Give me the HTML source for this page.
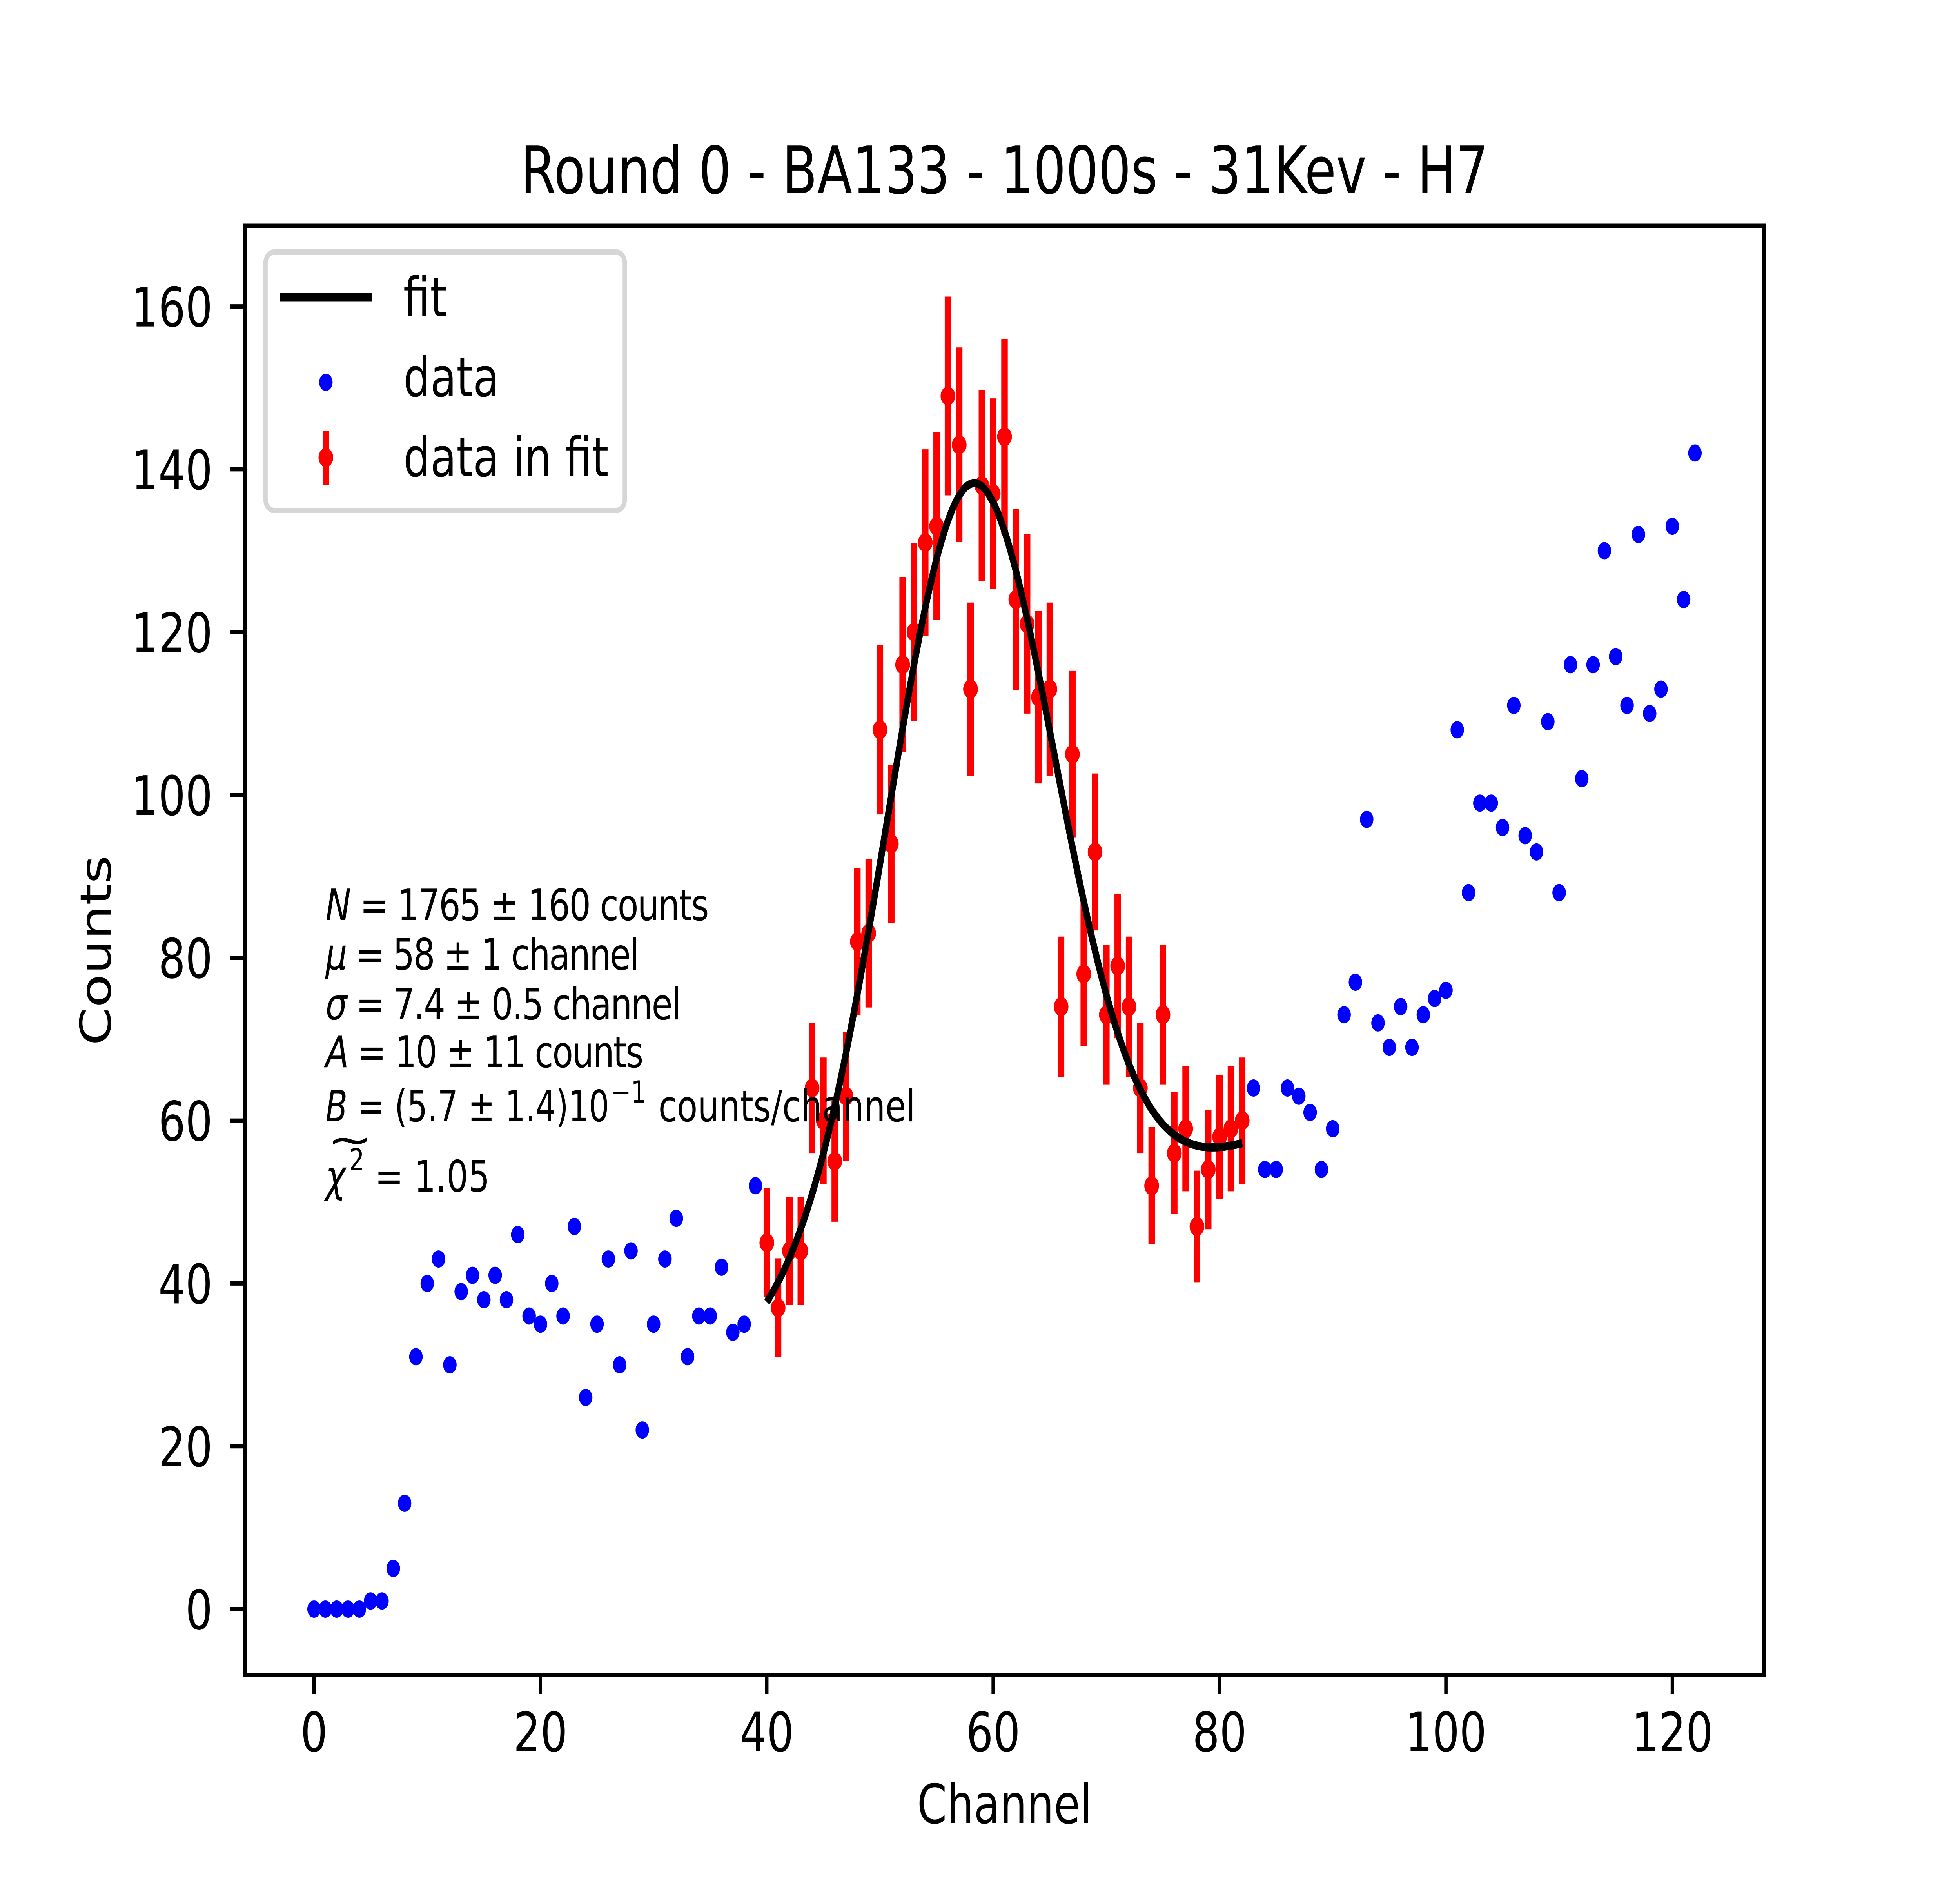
<!DOCTYPE html>
<html><head><meta charset="utf-8"><style>
html,body{margin:0;padding:0;background:#fff;width:100%;height:100%;overflow:hidden}
svg{display:block;width:100vw;height:100vh}
text{font-family:"DejaVu Sans","Liberation Sans",sans-serif;fill:#000}
</style></head><body>
<svg id="chart" xmlns="http://www.w3.org/2000/svg" viewBox="0 0 6400 4800" preserveAspectRatio="none">
<rect x="0" y="0" width="6400" height="4800" fill="#fff"/>
<text x="3280" y="493" font-size="167" text-anchor="middle">Round 0 - BA133 - 1000s - 31Kev - H7</text>
<g id="marks"></g>
<g id="axes"></g>
<g font-size="111">
<text x="1063" y="2347" textLength="1252" lengthAdjust="spacing"><tspan font-style="italic">N</tspan> = 1765 ± 160 counts</text>
<text x="1063" y="2473" textLength="1024" lengthAdjust="spacing"><tspan font-style="italic">μ</tspan> = 58 ± 1 channel</text>
<text x="1063" y="2600" textLength="1161" lengthAdjust="spacing"><tspan font-style="italic">σ</tspan> = 7.4 ± 0.5 channel</text>
<text x="1063" y="2722" textLength="1038" lengthAdjust="spacing"><tspan font-style="italic">A</tspan> = 10 ± 11 counts</text>
<text x="1063" y="2860" textLength="926" lengthAdjust="spacingAndGlyphs"><tspan font-style="italic">B</tspan> = (5.7 ± 1.4)10</text>
<text x="1995" y="2812" font-size="78">−1</text>
<text x="2150" y="2860" textLength="839" lengthAdjust="spacingAndGlyphs">counts/channel</text>
<text x="1063" y="3039"><tspan font-style="italic">χ</tspan></text>
<text x="1140" y="2985" font-size="78">2</text>
<text x="1143" y="2945" font-size="111" text-anchor="middle" transform="translate(1143 2945) scale(1.6 1) translate(-1143 -2945)">~</text>
<text x="1224" y="3039">= 1.05</text>
</g>
<g>
<rect x="867" y="643" width="1173" height="659" rx="28" fill="#fff" fill-opacity="0.8" stroke="#d6d6d6" stroke-width="14"/>
<line x1="915" y1="758" x2="1214" y2="758" stroke="#000" stroke-width="21"/>
<text x="1317" y="807" font-size="139">fit</text>
<circle cx="1064" cy="975" r="22" fill="#0000ff"/>
<text x="1317" y="1011" font-size="139">data</text>
<line x1="1064" y1="1098" x2="1064" y2="1238" stroke="#ff0000" stroke-width="21"/>
<circle cx="1064" cy="1167" r="24" fill="#ff0000"/>
<text x="1317" y="1215" font-size="139">data in fit</text>
</g>
</svg>
<script>
const blueChannels = [0,1,2,3,4,5,6,7,8,9,10,11,12,13,14,15,16,17,18,19,20,21,22,23,24,25,26,27,28,29,30,31,32,33,34,35,36,37,38,39,
 83,84,85,86,87,88,89,90,91,92,93,94,95,96,97,98,99,100,101,102,103,104,105,106,107,108,109,110,111,112,113,114,115,116,117,118,119,120,121,122];
const blueCounts = [0,0,0,0,0,1,1,5,13,31,40,43,30,39,41,38,41,38,46,36,35,40,36,47,26,35,43,30,44,22,35,43,48,31,36,36,42,34,35,52,
 64,54,54,64,63,61,54,59,73,77,97,72,69,74,69,73,75,76,108,88,99,99,96,111,95,93,109,88,116,102,116,130,117,111,132,110,113,133,124,142];
const redChannels = [40,41,42,43,44,45,46,47,48,49,50,51,52,53,54,55,56,57,58,59,60,61,62,63,64,65,66,67,68,69,70,71,72,73,74,75,76,77,78,79,80,81,82];
const redCounts = [45,37,44,44,64,60,55,63,82,83,108,94,116,120,131,133,149,143,113,138,137,144,124,121,112,113,74,105,78,93,73,79,74,64,52,73,56,59,47,54,58,59,60];
const fitParams = [1765, 58, 7.4, 10, 0.57]; // N, mu, sigma, A, B
const fitRange = [40, 82];
const xTicks = [0,20,40,60,80,100,120];
const yTicks = [0,20,40,60,80,100,120,140,160];
const xLim = [-6.1, 128.1];
const yLim = [-8.09, 169.9];

const L=800,R=5760,T=576,B=4272;
const X=v=>L+(v-xLim[0])*(R-L)/(xLim[1]-xLim[0]);
const Y=v=>B-(v-yLim[0])*(B-T)/(yLim[1]-yLim[0]);
const NS='http://www.w3.org/2000/svg';
function mk(tag,attrs,parent){const e=document.createElementNS(NS,tag);for(const k in attrs)e.setAttribute(k,attrs[k]);parent.appendChild(e);return e;}
const marks=document.getElementById('marks'), axes=document.getElementById('axes');

blueChannels.forEach((c,i)=>{
  const el=mk('circle',{cx:X(c),cy:Y(blueCounts[i]),r:22,fill:'#0000ff'},marks);
  
  
});
redChannels.forEach((c,i)=>{
  const v=redCounts[i], e=Math.sqrt(v);
  const el=mk('line',{x1:X(c),x2:X(c),y1:Y(v-e),y2:Y(v+e),stroke:'#ff0000','stroke-width':21},marks);
  
  
});
redChannels.forEach((c,i)=>{
  const el=mk('circle',{cx:X(c),cy:Y(redCounts[i]),r:24,fill:'#ff0000'},marks);
  
  
});
(function(){
  const [N,mu,s,A,Bb]=fitParams;
  let d='';
  for(let x=fitRange[0];x<=fitRange[1]+1e-9;x+=0.2){
    const y=N/(s*Math.sqrt(2*Math.PI))*Math.exp(-(x-mu)*(x-mu)/(2*s*s))+A+Bb*x;
    d+=(d?'L':'M')+X(x).toFixed(1)+' '+Y(y).toFixed(1);
  }
  const el=mk('path',{d:d,fill:'none',stroke:'#000','stroke-width':21,'stroke-linejoin':'round'},marks);
  
  
})();
const fr=mk('rect',{x:L,y:T,width:R-L,height:B-T,fill:'none',stroke:'#000','stroke-width':11},axes);


xTicks.forEach(t=>{
  const tk=mk('line',{x1:X(t),x2:X(t),y1:B,y2:B+49,stroke:'#000','stroke-width':11},axes);
  
  
  const lb=mk('text',{x:X(t),y:4467,'font-size':139,'text-anchor':'middle'},axes);
  lb.textContent=String(t);
  
  
});
yTicks.forEach(t=>{
  const tk=mk('line',{x1:L-49,x2:L,y1:Y(t),y2:Y(t),stroke:'#000','stroke-width':11},axes);
  
  
  const lb=mk('text',{x:694,y:Y(t)+51,'font-size':139,'text-anchor':'end'},axes);
  lb.textContent=String(t);
  
  
});
const xl=mk('text',{x:3280,y:4650,'font-size':139,'text-anchor':'middle'},axes);
xl.textContent='Channel';


const yl=mk('text',{x:0,y:0,'font-size':139,'text-anchor':'middle',transform:'translate(361 2424) rotate(-90)'},axes);
yl.textContent='Counts';


</script>
</body></html>
